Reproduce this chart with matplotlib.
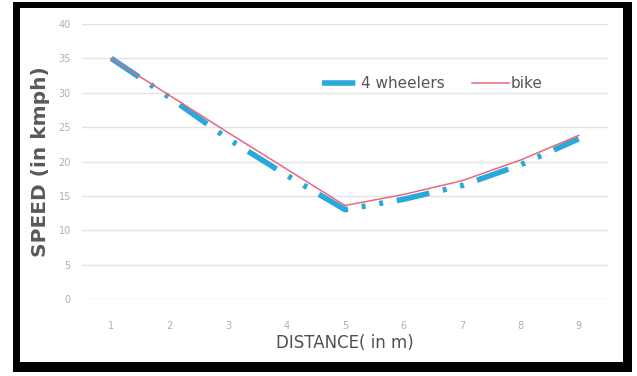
import matplotlib.pyplot as plt
from matplotlib.patches import Rectangle

distance = [1, 2, 3, 4, 5, 6, 7, 8, 9]
four_wheelers = [35, 29.3, 23.3, 18, 13, 14.5, 16.5, 19.5, 23.3]
bike = [35, 29.6, 24.2, 18.9, 13.6, 15.2, 17.2, 20.2, 23.8]
y_ticks = [0, 5, 10, 15, 20, 25, 30, 35, 40]

W, H = 637, 376
fig = plt.figure(figsize=(W / 100, H / 100), dpi=100)
fig.patch.set_facecolor("white")

# thick black frame around the chart, kept behind the axes
fig.patches.append(Rectangle((13 / W, 1 - 372 / H), 619 / W, 370 / H,
                             transform=fig.transFigure, facecolor="black",
                             edgecolor="none", zorder=-2))
fig.patches.append(Rectangle((20 / W, 1 - 362 / H), 603 / W, 354 / H,
                             transform=fig.transFigure, facecolor="white",
                             edgecolor="none", zorder=-1))

ax = fig.add_axes([82 / W, 1 - 299 / H, 526 / W, 275 / H])
ax.set_facecolor("none")

ax.plot(distance, four_wheelers, color="#2aa8dc", lw=4,
        dashes=(6, 2.5, 0.7, 2.5, 0.7, 2.5), label="4 wheelers", zorder=3)
ax.plot(distance, bike, color="#e8677a", lw=1.1, label="bike", zorder=4)

ax.set_xlim(0.5, 9.5)
ax.set_ylim(0, 40)
ax.set_xticks(distance)
ax.set_yticks(y_ticks)
ax.tick_params(length=0, labelsize=7, labelcolor="#b0b0b0")
ax.tick_params(axis="x", pad=16)
ax.tick_params(axis="y", pad=8)
ax.grid(axis="y", color="#e4e4e4", lw=1)
ax.set_axisbelow(True)
for s in ax.spines.values():
    s.set_visible(False)

ax.set_xlabel("DISTANCE( in m)", fontsize=12, color="#505050", labelpad=2)
ax.set_ylabel("SPEED (in kmph)", fontsize=14.5, color="#595959",
              fontweight="bold", labelpad=6)

ax.legend(loc="upper left", bbox_to_anchor=(0.43, 0.86), ncol=2, frameon=False,
          handlelength=2.4, columnspacing=1.8, handletextpad=0.15,
          labelcolor="#555555", fontsize=11)

fig.savefig("out.png", dpi=100)
